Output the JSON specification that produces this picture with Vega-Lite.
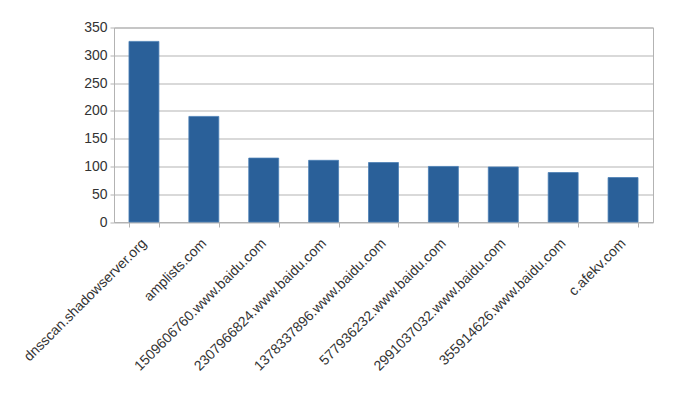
{
  "$schema": "https://vega.github.io/schema/vega-lite/v6.json",
  "autosize": "none",
  "width": 539,
  "height": 194.5,
  "padding": {"left": 114, "top": 27.5, "right": 26, "bottom": 177},
  "background": "white",
  "data": {
    "values": [
      {"domain": "dnsscan.shadowserver.org", "count": 325},
      {"domain": "amplists.com", "count": 190},
      {"domain": "1509606760.www.baidu.com", "count": 115},
      {"domain": "2307966824.www.baidu.com", "count": 111},
      {"domain": "1378337896.www.baidu.com", "count": 107},
      {"domain": "577936232.www.baidu.com", "count": 100},
      {"domain": "2991037032.www.baidu.com", "count": 99},
      {"domain": "355914626.www.baidu.com", "count": 89},
      {"domain": "c.afekv.com", "count": 80}
    ]
  },
  "mark": {"type": "bar", "color": "#2a6099", "stroke": "#4a7fb5", "strokeWidth": 0.8},
  "encoding": {
    "x": {
      "field": "domain",
      "type": "nominal",
      "sort": null,
      "scale": {"paddingInner": 0.5, "paddingOuter": 0.25},
      "axis": {
        "title": null,
        "labelAngle": -45,
        "labelAlign": "right",
        "labelBaseline": "middle",
        "labelFont": "Liberation Sans",
        "labelFontSize": 14,
        "labelColor": "#333333",
        "labelPadding": 14,
        "tickBand": "extent",
        "tickSize": 5,
        "tickColor": "#b3b3b3",
        "domainColor": "#b3b3b3",
        "labelOverlap": false,
        "labelLimit": 400
      }
    },
    "y": {
      "field": "count",
      "type": "quantitative",
      "scale": {"domain": [0, 350], "nice": false},
      "axis": {
        "title": null,
        "values": [0, 50, 100, 150, 200, 250, 300, 350],
        "labelFont": "Liberation Sans",
        "labelFontSize": 14,
        "labelColor": "#333333",
        "labelPadding": 3,
        "tickSize": 4,
        "tickColor": "#b3b3b3",
        "domainColor": "#b3b3b3",
        "gridColor": "#b3b3b3",
        "gridWidth": 1
      }
    }
  },
  "config": {
    "view": {"stroke": "#b3b3b3", "strokeWidth": 1}
  }
}
